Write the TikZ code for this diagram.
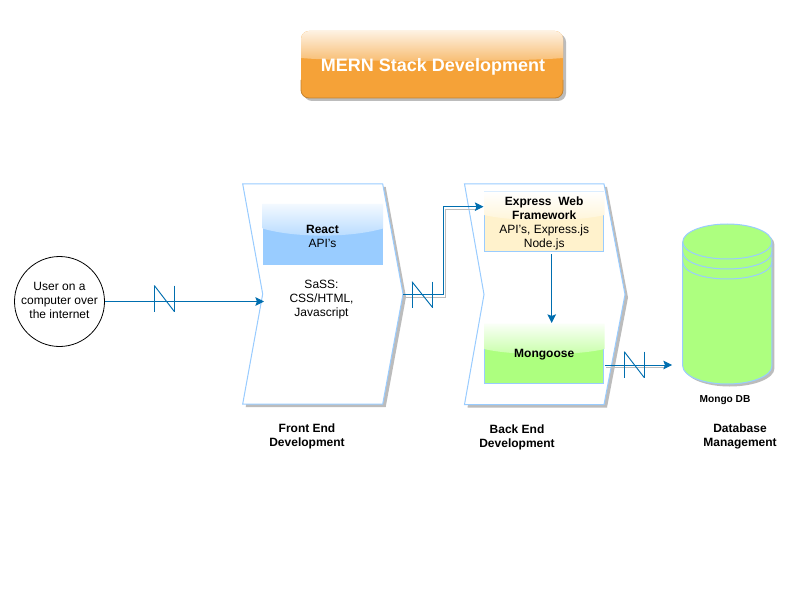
\documentclass[tikz,border=0pt]{standalone}
\usepackage{fontspec}
\setmainfont{Liberation Sans}
\usetikzlibrary{arrows.meta}
\definecolor{lineblue}{HTML}{99CCFF}
\definecolor{flowblue}{HTML}{006EAF}
\definecolor{shadowgray}{HTML}{BCBCBC}
\definecolor{limefill}{HTML}{ADFF7F}
\definecolor{creamfill}{HTML}{FFF2CC}
\definecolor{orangefill}{HTML}{F5A238}
\tikzset{
  panel/.style={draw=lineblue,fill=white,line width=0.75pt,line join=miter},
  flow/.style={draw=flowblue,line width=0.75pt,-{Stealth[length=6.5pt,width=6.5pt,inset=1.2pt]}},
  flowshadow/.style={draw=shadowgray,line width=0.75pt},
  breakmark/.style={draw=flowblue,line width=0.7pt},
  txt/.style={font=\fontsize{9}{10.5}\selectfont,align=center,text=black,inner sep=0pt},
  boldtxt/.style={font=\fontsize{9}{10.5}\selectfont\bfseries,align=center,text=black,inner sep=0pt},
  innerbox/.style={minimum width=89.6pt,minimum height=44.6pt,inner sep=0pt,line width=0.75pt}
}
\newcommand{\breaksym}[3]{%
  \draw[breakmark] (#1,#3-13) -- (#1,#3+13);
  \draw[breakmark] (#2,#3-13) -- (#2,#3+13);
  \draw[breakmark] (#1,#3-13) -- (#2,#3+13);
}
\begin{document}
\begin{tikzpicture}[x=0.75pt,y=-0.75pt]
\useasboundingbox (0,0) rectangle (795,595);
\fill[white] (0,0) rectangle (795,595);

% title
\fill[shadowgray,rounded corners=6pt] (304,34) rectangle (566,101);
\fill[orangefill,rounded corners=6pt] (301,31) rectangle (563,98);
\begin{scope}
  \clip[rounded corners=6pt] (301,31) rectangle (563,98);
  \shade[top color=orangefill!15!white,bottom color=orangefill!72!white]
    (301,31) -- (563,31) -- (563,58) .. controls (520,62) and (344,62) .. (301,58) -- cycle;
\end{scope}
\draw[orangefill!80!black,line width=0.6pt,rounded corners=6pt] (301,80) -- (301,98) -- (563,98) -- (563,80);
\node[font=\fontsize{13.5}{16}\selectfont\bfseries,text=white] (title) at (433,67) {MERN Stack Development};

% front chevron
\fill[shadowgray] (245.7,187) -- (385.7,187) -- (406,297) -- (385.7,407) -- (245.7,407) -- (265.7,297) -- cycle;
\draw[panel] (242.7,184) -- (382.7,184) -- (403,294) -- (382.7,404) -- (242.7,404) -- (262.7,294) -- cycle;
\coordinate (frontTip) at (403,294.3);
\coordinate (frontNotch) at (264,301.5);

% back chevron
\fill[shadowgray] (467.5,187) -- (607,187) -- (628,297.5) -- (607,407.5) -- (467.5,407.5) -- (487,297.5) -- cycle;
\draw[panel] (464.5,184) -- (604,184) -- (625,294.5) -- (604,404.5) -- (464.5,404.5) -- (484,294.5) -- cycle;

% react box
\fill[lineblue] (262.5,204) rectangle (383,264.5);
\shade[top color=lineblue!12!white,bottom color=lineblue!72!white]
  (262.5,204) -- (383,204) -- (383,228.5) .. controls (350,238) and (295,238) .. (262.5,228.5) -- cycle;
\node[txt] (react) at (322.5,236) {\textbf{React}\\API's};

% front text
\node[txt] (sass) at (321.5,300) {SaSS:\\CSS/HTML,\\ Javascript};

% express box
\node[innerbox,fill=creamfill,draw=lineblue] (express) at (544.2,221.5) {};
\shade[top color=white,bottom color=creamfill!80!white]
  (484,191.5) -- (604.5,191.5) -- (604.5,215) .. controls (575,222) and (514,222) .. (484,215) -- cycle;
\node[txt] (expressText) at (544.2,223) {\textbf{Express\ \ Web}\\\textbf{Framework}\\API's, Express.js\\Node.js};
\coordinate (expressIn) at (483.5,206.7);
\coordinate (expressOut) at (551.7,254);

% mongoose box
\node[innerbox,fill=limefill,draw=lineblue] (mongoose) at (544.2,354) {};
\shade[top color=limefill!6!white,bottom color=limefill!70!white]
  (484,323.5) -- (604.5,323.5) -- (604.5,349) .. controls (575,356) and (514,356) .. (484,349) -- cycle;
\node[boldtxt] (mongooseText) at (544.2,355) {Mongoose};
\coordinate (mongooseIn) at (551.7,323);
\coordinate (mongooseOut) at (604.5,365);

% cylinder
\fill[shadowgray,shift={(2.5,2.5)}]
  (682.7,242) .. controls (682.7,232.1) and (702.7,224) .. (727.3,224)
  .. controls (751.9,224) and (771.9,232.1) .. (771.9,242) -- (771.9,366)
  .. controls (771.9,375.9) and (751.9,384) .. (727.3,384)
  .. controls (702.7,384) and (682.7,375.9) .. (682.7,366) -- cycle;
\draw[draw=lineblue,fill=limefill,line width=0.75pt]
  (682.7,242) .. controls (682.7,232.1) and (702.7,224) .. (727.3,224)
  .. controls (751.9,224) and (771.9,232.1) .. (771.9,242) -- (771.9,366)
  .. controls (771.9,375.9) and (751.9,384) .. (727.3,384)
  .. controls (702.7,384) and (682.7,375.9) .. (682.7,366) -- cycle;
\draw[draw=lineblue,line width=0.75pt]
  (682.7,242) .. controls (682.7,251.9) and (702.7,259) .. (727.3,259) .. controls (751.9,259) and (771.9,251.9) .. (771.9,242);
\draw[draw=lineblue,line width=0.75pt]
  (682.7,252) .. controls (682.7,261.9) and (702.7,269) .. (727.3,269) .. controls (751.9,269) and (771.9,261.9) .. (771.9,252);
\draw[draw=lineblue,line width=0.75pt]
  (682.7,262) .. controls (682.7,271.9) and (702.7,279) .. (727.3,279) .. controls (751.9,279) and (771.9,271.9) .. (771.9,262);
\coordinate (dbIn) at (672,365);

% user
\node[draw=black,fill=white,circle,minimum size=67.5pt,inner sep=0pt,line width=0.6pt] (user) at (59.5,301.5) {};
\node[txt] (userText) at (59.5,300.5) {User on a\\computer over\\the internet};

% connectors
\draw[flow] (user.east) -- (frontNotch);
\breaksym{154.3}{174.3}{298.5}

\draw[flowshadow] (405,297) -- (445.8,297) -- (445.8,209.3) -- (476,209.3);
\draw[flow] (frontTip) -- (443.3,294.3) -- (443.3,206.7) -- (expressIn);
\breaksym{412}{432.7}{294.7}

\draw[flow] (expressOut) -- (mongooseIn);

\draw[flowshadow] (606,367) -- (666,367);
\draw[flow] (mongooseOut) -- (dbIn);
\breaksym{624.3}{644.3}{364.7}

% labels
\node[boldtxt] (frontLabel) at (307,436.5) {Front End\\Development};
\node[boldtxt] (backLabel) at (517,437.5) {Back End\\Development};
\node[font=\fontsize{7.6}{10}\selectfont\bfseries,text=black,inner sep=0pt] (mongoLabel) at (725,400) {Mongo DB};
\node[boldtxt] (dbLabel) at (740,436.5) {Database\\Management};
\end{tikzpicture}
\end{document}
